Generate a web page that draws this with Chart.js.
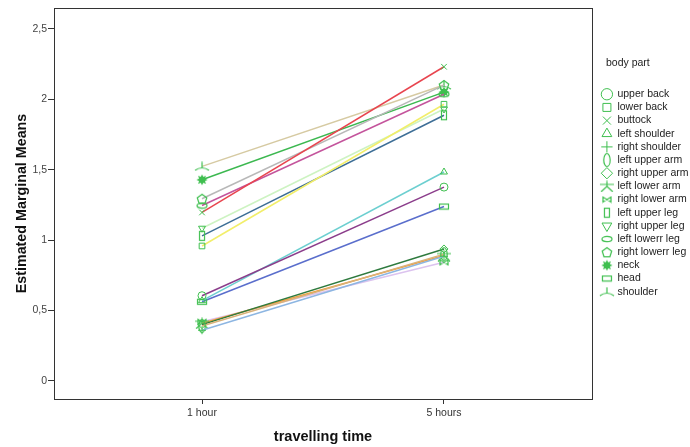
<!DOCTYPE html>
<html>
<head>
<meta charset="utf-8">
<script src="https://cdn.jsdelivr.net/npm/chart.js@4/dist/chart.umd.min.js"></script>
<style>
html,body{margin:0;padding:0;background:#fff;}
#wrap{width:690px;height:447px;position:relative;}
</style>
</head>
<body>
<div id="wrap"><canvas id="c" width="690" height="447"></canvas></div>
<script>
// ---- data ----
const timeLabels = ['1 hour', '5 hours'];
const yTicks = [0, 0.5, 1, 1.5, 2, 2.5];
const bodyParts = ['upper back','lower back','buttock','left shoulder','right shoulder','left upper arm','right upper arm','left lower arm','right lower arm','left upper leg','right upper leg','left lowerr leg','right lowerr leg','neck','head','shoulder'];
const upperBack     = [0.605, 1.376];
const lowerBack     = [0.958, 1.964];
const buttock       = [1.196, 2.230];
const leftShoulder  = [0.570, 1.483];
const rightShoulder = [0.360, 0.885];
const leftUpperArm  = [0.390, 0.900];
const rightUpperArm = [0.400, 0.937];
const leftLowerArm  = [0.410, 0.890];
const rightLowerArm = [0.420, 0.842];
const leftUpperLeg  = [1.030, 1.886];
const rightUpperLeg = [1.084, 1.930];
const leftLowerLeg  = [1.245, 2.035];
const rightLowerLeg = [1.293, 2.100];
const neck          = [1.428, 2.050];
const head          = [0.562, 1.238];
const shoulder      = [1.523, 2.100];
const seriesValues = [upperBack, lowerBack, buttock, leftShoulder, rightShoulder, leftUpperArm, rightUpperArm, leftLowerArm, rightLowerArm, leftUpperLeg, rightUpperLeg, leftLowerLeg, rightLowerLeg, neck, head, shoulder];
const lineColors = ['#8b3d8b','#f2ee6a','#e8454f','#6ccfd0','#8db6e2','#d9b27a','#2e7a3e','#f0a040','#dcc3ef','#3d6e96','#cdf3c2','#c4549c','#b8b8b8','#3cb850','#5a6ecc','#d6caa2'];

// ---- marker images ----
const GREEN = '#3fbf4f';
function mk(w, h, draw){
  const c = document.createElement('canvas');
  c.width = w; c.height = h;
  const g = c.getContext('2d');
  g.strokeStyle = GREEN; g.fillStyle = GREEN; g.lineWidth = 1.2;
  draw(g, w, h);
  return c;
}
const mVEllipse = mk(10, 16, g => { g.beginPath(); g.ellipse(5, 8, 3.2, 6.5, 0, 0, Math.PI*2); g.stroke(); });
const mBowtie = mk(10, 8, g => { g.beginPath(); g.moveTo(1,1.5); g.lineTo(1,6.5); g.lineTo(9,1.5); g.lineTo(9,6.5); g.closePath(); g.stroke(); });
const mNarrowRect = mk(8, 12, g => { g.strokeRect(1.5, 1.5, 5, 9); });
const mHEllipse = mk(12, 8, g => { g.beginPath(); g.ellipse(6, 4, 5, 2.6, 0, 0, Math.PI*2); g.stroke(); });
const mPentagon = mk(12, 12, g => { g.beginPath(); for(let i=0;i<5;i++){ const a=-Math.PI/2+i*2*Math.PI/5; const x=6+5*Math.cos(a), y=6.5+5*Math.sin(a); i?g.lineTo(x,y):g.moveTo(x,y);} g.closePath(); g.stroke(); });
const mGear = mk(12, 12, g => { g.beginPath(); for(let i=0;i<16;i++){ const a=i*Math.PI/8; const r=i%2?3.2:5.6; const x=6+r*Math.cos(a), y=6+r*Math.sin(a); i?g.lineTo(x,y):g.moveTo(x,y);} g.closePath(); g.fill(); });
const mHRect = mk(12, 8, g => { g.strokeRect(1.5, 1.5, 9, 5); });
const mShoulder = mk(16, 10, g => { g.beginPath(); g.moveTo(1,9); g.quadraticCurveTo(8,4,15,9); g.moveTo(8,6); g.lineTo(8,0.5); g.stroke(); });
const mLeftLowerArm = mk(16, 12, g => { g.beginPath(); g.moveTo(1,4); g.lineTo(15,4); g.moveTo(8,0.5); g.lineTo(8,6); g.lineTo(2,11.5); g.moveTo(8,6); g.lineTo(14,11.5); g.stroke(); });

const pointStyles = ['circle','rect','crossRot','triangle','cross',mVEllipse,'rectRot',mLeftLowerArm,mBowtie,mNarrowRect,'triangle',mHEllipse,mPentagon,mGear,mHRect,mShoulder];
const rotations = [0,0,0,0,0,0,0,0,0,0,180,0,0,0,0,0];

const datasets = bodyParts.map((name, i) => ({
  label: name,
  data: seriesValues[i].map((v, k) => ({x: k, y: v})),
  borderColor: lineColors[i],
  backgroundColor: lineColors[i],
  borderWidth: 1.5,
  tension: 0,
  pointStyle: pointStyles[i],
  pointRotation: rotations[i],
  pointRadius: 4,
  pointHoverRadius: 4,
  pointBorderColor: GREEN,
  pointBackgroundColor: name === 'neck' ? GREEN : 'rgba(255,255,255,0)',
  pointBorderWidth: 1
}));

const FONT = 'Arial, "Liberation Sans", sans-serif';

const framePlugin = {
  id: 'frame',
  afterLayout(chart){
    if (chart.legend){ chart.legend.left += 7; chart.legend.right += 7; }
  },
  afterDraw(chart){
    const a = chart.chartArea, ctx = chart.ctx;
    ctx.save();
    ctx.strokeStyle = '#333';
    ctx.lineWidth = 1;
    ctx.strokeRect(Math.round(a.left)+0.5, Math.round(a.top)+0.5, Math.round(a.right-a.left), Math.round(a.bottom-a.top));
    ctx.restore();
  }
};
const legendWidthPlugin = {
  id: 'legendWidth',
  afterInit(chart){
    const lg = chart.legend;
    if (lg){
      const fit = lg.fit;
      lg.fit = function(){ fit.call(this); this.width = 98; };
      const dt = lg.drawTitle;
      lg.drawTitle = function(){ this.ctx.save(); this.ctx.translate(7, 0); dt.call(this); this.ctx.restore(); };
    }
  }
};

new Chart(document.getElementById('c'), {
  type: 'line',
  data: { datasets },
  plugins: [legendWidthPlugin, framePlugin],
  options: {
    responsive: false,
    animation: false,
    devicePixelRatio: 1,
    layout: { padding: { top: 8, left: 0, right: 0, bottom: 0 } },
    plugins: {
      tooltip: { enabled: false },
      legend: {
        position: 'right',
        align: 'start',
        title: { display: true, position: 'start', text: 'body part', color: '#222', font: { family: FONT, size: 10.5 }, padding: { top: 49.75, bottom: 16 } },
        labels: {
          usePointStyle: true,
          boxHeight: 8,
          color: '#222',
          padding: 2.66,
          font: { family: FONT, size: 10.5 }
        }
      }
    },
    scales: {
      x: {
        type: 'linear',
        min: -0.6116,
        max: 1.6116,
        afterBuildTicks: s => { s.ticks = timeLabels.map((t, k) => ({value: k})); },
        afterFit: s => { s.height = 48; },
        grid: { drawOnChartArea: false, drawTicks: true, tickLength: 5, color: '#333' },
        border: { display: false },
        ticks: { color: '#333', padding: 3, font: { family: FONT, size: 10.5 }, callback: v => timeLabels[v] },
        title: { display: true, text: 'travelling time', color: '#111', font: { family: FONT, size: 14.5, weight: 'bold' }, padding: { top: 0, bottom: 1.5 } }
      },
      y: {
        type: 'linear',
        min: -0.128,
        max: 2.647,
        afterBuildTicks: s => { s.ticks = yTicks.map(v => ({value: v})); },
        afterFit: s => { s.width = 54; },
        grid: { drawOnChartArea: false, drawTicks: true, tickLength: 6, color: '#333' },
        border: { display: false },
        ticks: { color: '#444', padding: 1, font: { family: FONT, size: 10.5 }, callback: v => String(v).replace('.', ',') },
        title: { display: true, text: 'Estimated Marginal Means', color: '#111', font: { family: FONT, size: 14.3, weight: 'bold' }, padding: { top: 13.5, bottom: 0 } }
      }
    }
  }
});
</script>
</body>
</html>
